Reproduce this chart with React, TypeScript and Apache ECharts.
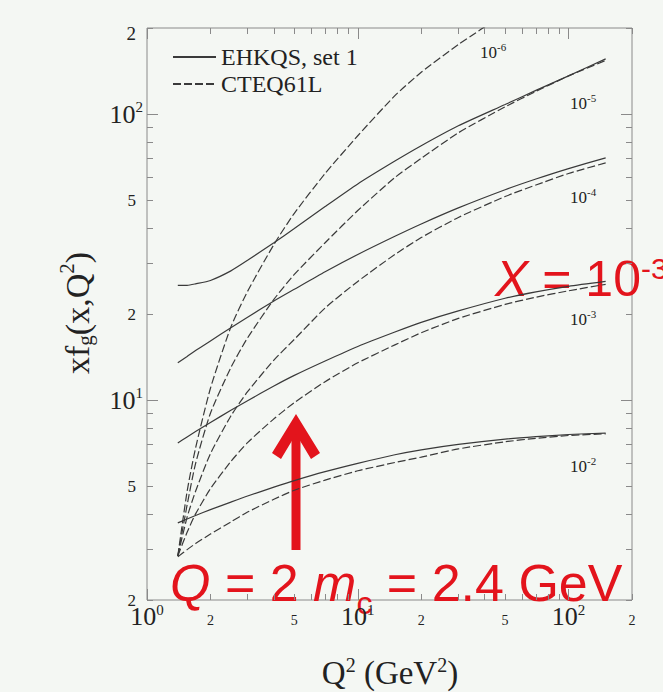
import { useEffect, useRef } from 'react';
import * as echarts from 'echarts';

// ---------- data ----------
const Q2 = [1.4, 1.55, 1.7, 2, 2.5, 3, 4, 5, 7, 10, 15, 20, 30, 50, 70, 100, 150];

const EHKQS_X1E2 = [3.72, 3.84, 3.95, 4.14, 4.4, 4.62, 4.96, 5.23, 5.62, 6.01, 6.44, 6.7, 7.0, 7.3, 7.45, 7.58, 7.67];
const EHKQS_X1E3 = [7.08, 7.43, 7.76, 8.35, 9.21, 9.95, 11.2, 12.2, 13.7, 15.4, 17.3, 18.7, 20.5, 22.7, 23.9, 25.0, 26.0];
const EHKQS_X1E4 = [13.5, 14.2, 14.9, 16.1, 17.9, 19.5, 22.2, 24.4, 28.1, 32.3, 37.4, 41.3, 47.0, 54.4, 59.3, 64.5, 70.3];
const EHKQS_X1E5 = [25.2, 25.2, 25.5, 26.2, 28.3, 30.8, 35.5, 39.8, 47.5, 57, 68.5, 77.5, 91, 108, 121, 136, 156];

const CTEQ_X1E2 = [2.83, 3.0, 3.15, 3.4, 3.75, 4.06, 4.5, 4.84, 5.25, 5.66, 6.05, 6.32, 6.75, 7.15, 7.35, 7.52, 7.62];
const CTEQ_X1E3 = [2.85, 3.45, 4.0, 4.9, 6.1, 7.1, 8.6, 9.8, 11.6, 13.5, 15.6, 17.2, 19.3, 21.6, 22.9, 24.1, 25.4];
const CTEQ_X1E4 = [2.85, 3.9, 4.8, 6.5, 8.8, 10.7, 13.8, 16.3, 21, 26, 32.3, 37, 43.5, 51.5, 56.5, 62, 67.5];
const CTEQ_X1E5 = [2.85, 4.3, 6.0, 9.0, 13, 16.5, 22.5, 27.5, 35.5, 46, 60, 70, 86, 106, 120, 136, 154];
const CTEQ_X1E6 = [2.85, 4.8, 6.8, 11, 18, 24, 35, 45, 62, 84, 116, 140, 175, 225];

const X_LABELS = [1, 2, 5, 10, 20, 50, 100, 200];
const X_TICKS = [1, 2, 3, 4, 5, 6, 7, 8, 9, 10, 20, 30, 40, 50, 60, 70, 80, 90, 100, 200];
const X_MAJOR = [1, 10, 100];
const Y_LABELS = [2, 5, 10, 20, 50, 100, 200];
const Y_TICKS = [2, 3, 4, 5, 6, 7, 8, 9, 10, 20, 30, 40, 50, 60, 70, 80, 90, 100, 200];
const Y_MAJOR = [10, 100];

const CURVE_LABELS = ['-6', '-5', '-4', '-3', '-2'];

// ---------- styles ----------
const SERIF = "'Liberation Serif', 'Times New Roman', serif";
const SANS = "'Liberation Sans', Arial, sans-serif";
const RED = '#e3141c';
const INK = '#222222';
const LINE = '#3a3a3a';
const FRAME = '#8a8a8a';
const BG = '#f4f7f3';

function isPow10(v: number) {
  const e = Math.round(Math.log10(v));
  return Math.abs(v - Math.pow(10, e)) < 1e-6 * v ? e : null;
}
function lead(v: number) {
  return Math.round(v / Math.pow(10, Math.floor(Math.log10(v) + 1e-9)));
}
function fmtX(v: number) {
  const e = isPow10(v);
  if (e !== null) return `{b|10}{sup|${e}}`;
  return `{m|${lead(v)}}`;
}
function fmtY(v: number) {
  const e = isPow10(v);
  if (e !== null) return `{b|10}{sup|${e}}`;
  if (v >= 199) return `{t|${lead(v)}}`;
  return `{m|${lead(v)}}`;
}

const xRich = {
  b: { fontFamily: SERIF, fontSize: 26, color: INK },
  sup: { fontFamily: SERIF, fontSize: 15, color: INK, padding: [0, 0, 14, 0] },
  m: { fontFamily: SERIF, fontSize: 14, color: INK, padding: [11, 0, 0, 0] },
};
const yRich = {
  b: { fontFamily: SERIF, fontSize: 26, color: INK },
  sup: { fontFamily: SERIF, fontSize: 15, color: INK, padding: [0, 0, 14, 0] },
  m: { fontFamily: SERIF, fontSize: 17, color: INK, padding: [0, 7, 0, 0] },
  t: { fontFamily: SERIF, fontSize: 19, color: INK, padding: [10, 7, 0, 0] },
};

function pairs(vals: number[]) {
  return vals.map((v, i) => [Q2[i], v]);
}

function curve(name: string, vals: number[], dashed: boolean) {
  return {
    type: 'line',
    name,
    data: pairs(vals),
    xAxisIndex: 0,
    yAxisIndex: 0,
    symbol: 'none',
    showSymbol: false,
    smooth: 0.2,
    silent: true,
    clip: true,
    lineStyle: { color: LINE, width: 1.2, type: dashed ? [8, 3] : 'solid' },
    itemStyle: { color: LINE },
  };
}

function logAxis(kind: 'x' | 'y', position: string, ticks: number[], len: number, labels: boolean) {
  const base: any = {
    type: 'log',
    logBase: 10,
    min: kind === 'x' ? 1 : 2,
    max: 200,
    position,
    axisLine: { show: false },
    splitLine: { show: false },
    axisTick: { show: true, inside: true, length: len, customValues: ticks, lineStyle: { color: FRAME, width: 1 } },
    axisLabel: { show: false },
  };
  if (labels) {
    base.axisLabel = kind === 'x'
      ? { show: true, customValues: X_LABELS, formatter: fmtX, rich: xRich, margin: 2 }
      : { show: true, customValues: Y_LABELS, formatter: fmtY, rich: yRich, margin: 4 };
  }
  return base;
}

function curveLabel(exp: string, x: number, y: number) {
  return {
    type: 'text',
    x,
    y,
    silent: true,
    style: {
      text: `{b|10}{s|${exp}}`,
      verticalAlign: 'middle',
      rich: {
        b: { fontFamily: SERIF, fontSize: 17, fill: INK },
        s: { fontFamily: SERIF, fontSize: 11, fill: INK, padding: [0, 0, 11, 0] },
      },
    },
  };
}

const LABEL_POS: [number, number][] = [[480, 52], [570, 103], [570, 197], [570, 319], [570, 466]];

export default function App() {
  const ref = useRef<HTMLDivElement>(null);
  useEffect(() => {
    document.body.style.margin = '0';
    document.body.style.background = BG;
    const chart = echarts.init(ref.current!, undefined, { renderer: 'svg' });
    const option: any = {
      animation: false,
      backgroundColor: BG,
      grid: { left: 147, right: 31, top: 28, bottom: 92, show: true, borderColor: FRAME, borderWidth: 1, backgroundColor: 'transparent' },
      legend: {
        orient: 'vertical',
        left: 167,
        top: 40,
        itemWidth: 43,
        itemHeight: 14,
        itemGap: 3,
        itemTextGap: 15,
        selectedMode: false,
        itemStyle: { opacity: 0 },
        data: ['EHKQS, set 1', 'CTEQ61L'],
        textStyle: { fontFamily: SERIF, fontSize: 24, color: INK, lineHeight: 24 },
      },
      xAxis: [
        logAxis('x', 'bottom', X_TICKS, 6, true),
        logAxis('x', 'bottom', X_MAJOR, 11, false),
        logAxis('x', 'top', X_TICKS, 6, false),
        logAxis('x', 'top', X_MAJOR, 11, false),
      ],
      yAxis: [
        logAxis('y', 'left', Y_TICKS, 6, true),
        logAxis('y', 'left', Y_MAJOR, 11, false),
        logAxis('y', 'right', Y_TICKS, 6, false),
        logAxis('y', 'right', Y_MAJOR, 11, false),
      ],
      series: [
        curve('EHKQS, set 1', EHKQS_X1E2, false),
        curve('EHKQS, set 1', EHKQS_X1E3, false),
        curve('EHKQS, set 1', EHKQS_X1E4, false),
        curve('EHKQS, set 1', EHKQS_X1E5, false),
        curve('CTEQ61L', CTEQ_X1E2, true),
        curve('CTEQ61L', CTEQ_X1E3, true),
        curve('CTEQ61L', CTEQ_X1E4, true),
        curve('CTEQ61L', CTEQ_X1E5, true),
        curve('CTEQ61L', CTEQ_X1E6, true),
      ],
      graphic: [
        ...CURVE_LABELS.map((e, i) => curveLabel(e, LABEL_POS[i][0], LABEL_POS[i][1])),
        {
          type: 'text',
          x: 77,
          y: 313,
          rotation: Math.PI / 2,
          silent: true,
          style: {
            text: '{n|xf}{sub|g}{n|(x,Q}{sup|2}{n|)}',
            align: 'center',
            verticalAlign: 'middle',
            rich: {
              n: { fontFamily: SERIF, fontSize: 34, fill: INK },
              sub: { fontFamily: SERIF, fontSize: 21, fill: INK, padding: [16, 0, 0, 0] },
              sup: { fontFamily: SERIF, fontSize: 21, fill: INK, padding: [0, 0, 20, 0] },
            },
          },
        },
        {
          type: 'text',
          x: 390,
          y: 673,
          silent: true,
          style: {
            text: '{n|Q}{sup|2}{n| (GeV}{sup|2}{n|)}',
            align: 'center',
            verticalAlign: 'middle',
            rich: {
              n: { fontFamily: SERIF, fontSize: 33, fill: INK },
              sup: { fontFamily: SERIF, fontSize: 20, fill: INK, padding: [0, 0, 16, 0] },
            },
          },
        },
        {
          type: 'text',
          x: 495,
          y: 279,
          silent: true,
          style: {
            text: '{i|X}{n| = 10}{sup|-3}',
            verticalAlign: 'middle',
            rich: {
              i: { fontFamily: SANS, fontSize: 50, fontStyle: 'italic', fill: RED },
              n: { fontFamily: SANS, fontSize: 50, fill: RED },
              sup: { fontFamily: SANS, fontSize: 30, fill: RED, padding: [0, 0, 22, 0] },
            },
          },
        },
        {
          type: 'text',
          x: 170,
          y: 583,
          silent: true,
          style: {
            text: '{i|Q}{n| = 2 }{i|m}{sub|c}{n| = 2.4 GeV}',
            verticalAlign: 'middle',
            rich: {
              i: { fontFamily: SANS, fontSize: 52, fontStyle: 'italic', fill: RED },
              n: { fontFamily: SANS, fontSize: 52, fill: RED },
              sub: { fontFamily: SANS, fontSize: 32, fill: RED, padding: [40, 0, 0, 0] },
            },
          },
        },
        {
          type: 'rect',
          silent: true,
          shape: { x: 291.5, y: 432, width: 9, height: 118 },
          style: { fill: RED },
        },
        {
          type: 'polygon',
          silent: true,
          shape: { points: [[296, 414], [320, 453], [311, 459], [296, 434], [281, 459], [272, 453]] },
          style: { fill: RED },
        },
      ],
    };
    chart.setOption(option);
    return () => chart.dispose();
  }, []);
  return <div ref={ref} style={{ width: 663, height: 692 }} />;
}
